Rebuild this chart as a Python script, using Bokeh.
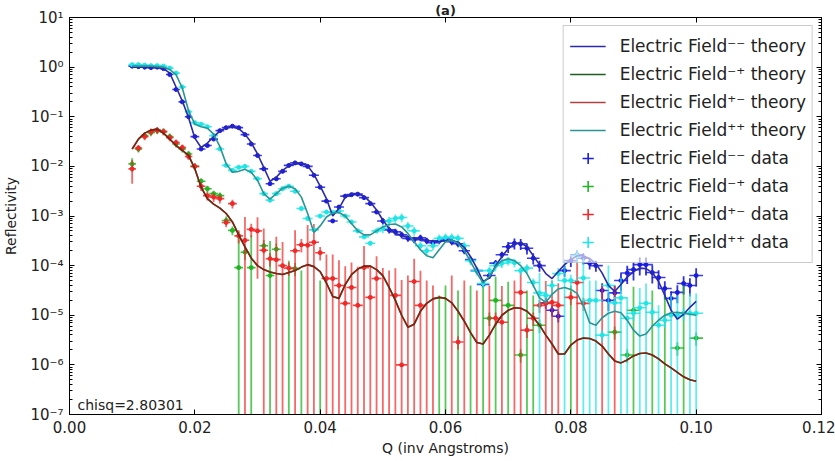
import numpy as np
from bokeh.plotting import figure
from bokeh.models import (FixedTicker, CustomJSTickFormatter, LinearAxis, LogAxis,
                          Legend, LegendItem, Label, ColumnDataSource, Range1d)
from bokeh.embed import file_html
from bokeh.resources import INLINE

nan = float("nan")

# ---------------- data ----------------
q = [0.010, 0.011, 0.012, 0.013, 0.014, 0.015, 0.016, 0.017, 0.018, 0.019,
     0.020, 0.021, 0.022, 0.023, 0.024, 0.025, 0.026, 0.027, 0.028, 0.029,
     0.030, 0.031, 0.032, 0.033, 0.034, 0.035, 0.036, 0.037, 0.038, 0.039,
     0.040, 0.041, 0.042, 0.043, 0.044, 0.045, 0.046, 0.047, 0.048, 0.049,
     0.050, 0.051, 0.052, 0.053, 0.054, 0.055, 0.056, 0.057, 0.058, 0.059,
     0.060, 0.061, 0.062, 0.063, 0.064, 0.065, 0.066, 0.067, 0.068, 0.069,
     0.070, 0.071, 0.072, 0.073, 0.074, 0.075, 0.076, 0.077, 0.078, 0.079,
     0.080, 0.081, 0.082, 0.083, 0.084, 0.085, 0.086, 0.087, 0.088, 0.089,
     0.090, 0.091, 0.092, 0.093, 0.094, 0.095, 0.096, 0.097, 0.098, 0.099, 0.100]

# Q resolution (horizontal error bar half-width)
dq = [0.0006] * 10 + [0.0007] * 10 + [0.0007] * 5 + [0.0008] * 5 + [0.0008] * 10 + \
     [0.0009] * 10 + [0.0009] * 5 + [0.0010] * 5 + [0.0010] * 10 + [0.0011] * 10 + [0.0011] * 11

# theory curves, log10(R)
theory_mm = [0.00, 0.00, 0.00, -0.01, -0.01, -0.03, -0.12, -0.40, -0.68, -1.02,
             -1.43, -1.62, -1.53, -1.40, -1.29, -1.22, -1.20, -1.24, -1.35, -1.52,
             -1.75, -2.02, -2.30, -2.22, -2.08, -1.99, -1.94, -1.94, -1.99, -2.16,
             -2.40, -2.65, -3.00, -2.85, -2.62, -2.55, -2.55, -2.60, -2.72, -2.88,
             -3.08, -3.25, -3.35, -3.40, -3.43, -3.45, -3.47, -3.49, -3.51, -3.52,
             -3.50, -3.49, -3.53, -3.63, -3.82, -4.05, -4.32, -4.25, -4.00, -3.82,
             -3.66, -3.56, -3.54, -3.62, -3.80, -3.98, -4.16, -4.26, -4.12, -3.98,
             -3.88, -3.80, -3.80, -3.86, -3.96, -4.15, -4.40, -4.52, -4.38, -4.23,
             -4.12, -4.05, -4.06, -4.14, -4.32, -4.60, -4.90, -5.08, -4.98, -4.84, -4.72]
theory_pp = [0.02, 0.02, 0.02, 0.02, 0.01, 0.00, -0.05, -0.15, -0.42, -0.88,
             -1.15, -1.20, -1.23, -1.35, -1.60, -1.95, -2.12, -2.10, -2.06, -2.12,
             -2.28, -2.55, -2.66, -2.55, -2.44, -2.40, -2.45, -2.62, -2.95, -3.33,
             -3.20, -3.02, -2.94, -2.93, -3.00, -3.15, -3.30, -3.38, -3.38, -3.30,
             -3.22, -3.17, -3.16, -3.22, -3.35, -3.52, -3.68, -3.80, -3.84, -3.68,
             -3.52, -3.49, -3.55, -3.70, -3.92, -4.15, -4.35, -4.22, -4.02, -3.90,
             -3.86, -3.90, -4.00, -4.16, -4.40, -4.65, -4.74, -4.58, -4.47, -4.44,
             -4.48, -4.56, -4.80, -5.15, -5.20, -5.05, -4.96, -4.92, -4.95, -5.10,
             -5.30, -5.42, -5.38, -5.22, -5.10, -5.00, -4.95, -4.94, -4.96, -4.98, -5.00]
theory_pm = [-1.65, -1.45, -1.33, -1.27, -1.25, -1.33, -1.45, -1.58, -1.68, -1.78,
             -2.05, -2.42, -2.65, -2.76, -2.84, -2.95, -3.12, -3.38, -3.62, -3.85,
             -4.00, -4.08, -4.13, -4.16, -4.18, -4.14, -4.10, -4.03, -3.98, -4.02,
             -4.12, -4.35, -4.62, -4.66, -4.38, -4.18, -4.07, -4.01, -4.01, -4.08,
             -4.20, -4.44, -4.70, -5.00, -5.24, -5.18, -4.92, -4.76, -4.67, -4.64,
             -4.66, -4.75, -4.92, -5.12, -5.35, -5.55, -5.58, -5.40, -5.18, -5.00,
             -4.90, -4.85, -4.86, -4.92, -5.04, -5.20, -5.40, -5.58, -5.78, -5.78,
             -5.60, -5.50, -5.46, -5.47, -5.52, -5.62, -5.78, -5.92, -5.96, -5.90,
             -5.82, -5.77, -5.76, -5.80, -5.88, -5.98, -6.06, -6.15, -6.24, -6.30, -6.33]
theory_mp = list(theory_pm)  # the -+ and +- theory curves coincide in the figure

# measured data: log10(R) (nan = not positive / not shown) and log10(dR)
data_mm = [0.02, 0.01, 0.00, -0.01, 0.00, -0.03, -0.15, -0.45, -0.70, -1.00,
           -1.40, -1.65, -1.58, -1.45, -1.28, -1.22, -1.19, -1.22, -1.36, -1.55,
           -1.78, -2.05, -2.35, -2.25, -2.10, -1.98, -1.93, -1.95, -2.00, -2.18,
           -2.42, -2.70, -3.10, -2.82, -2.60, -2.57, -2.56, -2.63, -2.75, -2.92,
           -3.10, -3.28, -3.32, -3.38, -3.45, -3.48, -3.44, -3.50, -3.54, -3.50,
           -3.46, -3.52, -3.56, -3.70, -3.88, -4.10, -4.38, -4.20, -3.95, -3.78,
           -3.62, -3.55, -3.56, -3.65, -3.85, -4.00, -4.75, -4.90, -5.02, -4.10,
           -3.90, -3.78, -3.85, -3.95, -4.00, -4.50, -4.70, -4.55, -4.30, -4.15,
           -4.08, -3.98, -3.98, -4.14, -4.24, -4.46, -4.66, -4.54, -4.36, -4.40, -4.20]
err_mm = [-1.38, -1.39, -1.40, -1.41, -1.40, -1.43, -1.55, -1.85, -2.10, -2.40,
          -2.80, -3.05, -2.98, -2.85, -2.68, -2.62, -2.59, -2.62, -2.76, -2.95,
          -2.88, -3.15, -3.45, -3.35, -3.20, -3.08, -3.03, -3.05, -3.10, -3.28,
          -3.52, -3.80, -4.20, -3.92, -3.70, -3.67, -3.66, -3.73, -3.85, -4.02,
          -3.92, -4.10, -4.14, -4.20, -4.27, -4.30, -4.26, -4.32, -4.36, -4.32,
          -4.28, -4.34, -4.38, -4.52, -4.70, -4.92, -5.20, -5.02, -4.77, -4.60,
          -4.22, -4.15, -4.16, -4.25, -4.45, -4.60, -5.35, -5.50, -5.62, -4.70,
          -4.50, -4.38, -4.45, -4.55, -4.60, -4.90, -5.10, -4.95, -4.70, -4.55,
          -4.48, -4.38, -4.38, -4.54, -4.64, -4.86, -5.06, -4.94, -4.76, -4.80, -4.60]

data_mp = [-1.95, -1.65, -1.38, -1.32, -1.28, -1.30, -1.40, -1.55, -1.65, -1.75,
           -2.00, -2.30, -2.45, -2.55, -2.59, -3.09, -3.29, -4.04, -3.73, -4.04,
           nan, -3.60, -4.20, -3.67, nan, nan, -4.06, nan, nan, nan,
           nan, nan, nan, nan, nan, nan, nan, nan, nan, nan,
           nan, nan, nan, nan, nan, nan, nan, nan, nan, nan,
           nan, nan, nan, nan, nan, nan, nan, -5.06, -4.70, nan,
           -4.80, nan, -5.80, nan, nan, -5.20, nan, nan, nan, nan,
           nan, nan, nan, nan, nan, nan, nan, -5.34, nan, -5.80,
           -4.90, nan, nan, nan, nan, nan, nan, -5.66, nan, nan, -5.46]
err_mp = [-2.47, -2.47, -2.20, -2.14, -2.10, -2.12, -2.22, -2.37, -2.47, -2.57,
          -2.82, -3.12, -3.27, -3.37, -3.41, -3.79, -3.99, -3.40, -4.25, -3.50,
          nan, -4.12, -3.60, -4.19, nan, -3.90, -4.58, -4.10, nan, nan,
          -4.30, nan, nan, nan, nan, nan, nan, nan, nan, nan,
          nan, nan, nan, nan, nan, nan, nan, nan, nan, -4.60,
          -4.40, nan, -4.50, nan, -4.40, nan, -4.30, -5.58, -4.40, nan,
          -4.50, nan, -6.32, -4.50, -4.60, -5.72, nan, nan, nan, nan,
          -4.40, nan, nan, nan, nan, nan, nan, -5.86, nan, -6.32,
          -4.60, nan, nan, -4.50, nan, -4.60, nan, -6.18, -4.40, nan, -5.98]

data_pm = [-2.05, -1.63, -1.40, -1.30, -1.27, -1.30, -1.42, -1.52, -1.62, -1.80,
           -2.00, -2.40, -2.59, -2.62, -2.65, -3.13, -2.75, -3.40, -3.49, -3.27,
           -3.30, -3.69, -3.86, -3.88, -4.00, -4.05, -3.70, -3.58, -3.59, -3.53,
           -3.74, -4.26, -4.26, -4.40, -4.76, -4.44, -4.80, -4.04, -4.64, -4.26,
           nan, nan, -4.60, -6.00, nan, -4.32, -4.80, nan, nan, nan,
           nan, nan, -5.54, nan, nan, nan, nan, nan, -5.06, -5.14,
           nan, nan, -4.54, -5.30, -5.06, -4.80, -4.76, -4.74, -4.80, nan,
           -4.64, -4.34, -4.76, nan, nan, nan, nan, nan, nan, nan,
           nan, nan, nan, nan, nan, nan, nan, nan, nan, nan, nan]
err_pm = [-2.35, -2.45, -2.22, -2.12, -2.09, -2.12, -2.24, -2.34, -2.44, -2.62,
          -2.82, -3.10, -3.29, -3.32, -3.35, -3.83, -3.45, -3.92, -3.20, -3.79,
          -3.35, -3.45, -4.38, -3.60, -3.70, -4.57, -3.50, -4.10, -3.40, -3.40,
          -4.26, -3.95, -3.95, -4.05, -4.10, -4.10, -4.10, -3.80, -4.10, -4.00,
          -4.05, -4.10, -4.20, -4.30, -4.20, -4.05, -4.20, -4.30, -4.40, nan,
          nan, -4.20, -6.06, -4.30, nan, -4.50, nan, -4.40, -5.58, -4.50,
          nan, -4.30, -4.30, -5.82, -5.58, -5.32, -4.50, -4.50, -4.55, nan,
          -5.16, -4.10, -5.28, nan, nan, -4.40, nan, -4.40, nan, nan,
          nan, nan, nan, nan, nan, nan, nan, nan, nan, nan, nan]

data_pp = [0.05, 0.05, 0.04, 0.03, 0.03, 0.02, -0.02, -0.12, -0.40, -0.90,
           -1.12, -1.15, -1.20, -1.38, -1.65, -1.98, -2.08, -2.02, -2.00, -2.10,
           -2.25, -2.55, -2.68, -2.55, -2.45, -2.40, -2.50, -2.85, -3.05, -3.28,
           -3.00, -2.92, -2.93, -2.90, -3.00, -3.12, -3.30, -3.42, -3.55, -3.30,
           -3.25, -3.10, -3.05, -3.03, -3.20, -3.30, -3.60, -3.70, -3.60, -3.45,
           -3.43, -3.43, -3.45, -3.60, -3.90, -4.10, -4.36, -4.10, -4.00, -3.95,
           -3.90, -3.94, -4.10, -4.05, -4.34, -4.55, -4.60, -4.40, -4.16, -4.30,
           -4.30, -3.80, -4.25, -4.70, -4.70, -5.40, -4.40, -4.75, -4.65, -5.06,
           -4.96, -4.85, -4.76, -4.94, -5.20, -5.10, -5.00, -5.00, -4.96, -4.96, -4.96]
err_pp = [-1.25, -1.25, -1.26, -1.27, -1.27, -1.28, -1.32, -1.42, -1.70, -2.20,
          -2.42, -2.45, -2.50, -2.68, -2.95, -3.28, -3.38, -3.32, -3.30, -3.40,
          -3.25, -3.55, -3.68, -3.55, -3.45, -3.40, -3.50, -3.85, -4.05, -4.28,
          -4.00, -3.92, -3.93, -3.90, -4.00, -4.12, -4.30, -4.42, -4.55, -4.30,
          -3.95, -3.80, -3.75, -3.73, -3.90, -4.00, -4.30, -4.40, -4.30, -4.15,
          -4.13, -4.13, -4.15, -4.30, -4.60, -4.80, -5.06, -4.80, -4.70, -4.65,
          -4.60, -4.64, -4.80, -4.75, -5.04, -4.37, -5.12, -4.92, -4.68, -4.12,
          -4.82, -4.32, -4.07, -4.52, -4.52, -5.92, -4.22, -5.27, -4.47, -4.88,
          -5.48, -4.67, -4.58, -5.46, -5.02, -5.62, -4.82, -4.82, -5.48, -4.78, -4.78]

x_ticks = [0.00, 0.02, 0.04, 0.06, 0.08, 0.10, 0.12]
y_ticks = [1e-7, 1e-6, 1e-5, 1e-4, 1e-3, 1e-2, 1e-1, 1e0, 1e1]

title_text = "(a)"
labels_theory = ["Electric Field\u207b\u207b theory", "Electric Field\u207b\u207a theory",
                 "Electric Field\u207a\u207b theory", "Electric Field\u207a\u207a theory"]
labels_data = ["Electric Field\u207b\u207b data", "Electric Field\u207b\u207a data",
               "Electric Field\u207a\u207b data", "Electric Field\u207a\u207a data"]

# ---------------- figure ----------------
FONT = "DejaVu Sans"
Y_MIN, Y_MAX = 1e-7, 10.0

p = figure(width=835, height=461, x_range=Range1d(0, 0.12), y_range=Range1d(Y_MIN, Y_MAX),
           y_axis_type="log", output_backend="svg", toolbar_location=None,
           min_border_left=66, min_border_right=14, min_border_top=0, min_border_bottom=47)
p.title.text = title_text
p.title.align = "center"
p.title.text_font = FONT
p.title.text_font_size = "13px"
p.title.text_font_style = "bold"
p.title.text_color = "#222222"
p.title.standoff = 0
p.title.offset = 0

p.xgrid.visible = False
p.ygrid.visible = False
p.outline_line_color = "black"
p.outline_line_width = 1
p.background_fill_color = "white"
p.border_fill_color = "white"

xt = FixedTicker(ticks=x_ticks, minor_ticks=[])
minor_y = [k * 10.0 ** e for e in range(-7, 1) for k in range(2, 10)]
yt = FixedTicker(ticks=y_ticks, minor_ticks=minor_y)

sup_fmt = CustomJSTickFormatter(code="""
const e = Math.round(Math.log10(tick));
const sup = {'-': '\\u207b', '0': '\\u2070', '1': '\\u00b9', '2': '\\u00b2', '3': '\\u00b3',
             '4': '\\u2074', '5': '\\u2075', '6': '\\u2076', '7': '\\u2077', '8': '\\u2078', '9': '\\u2079'};
let s = '';
for (const c of String(e)) { s += sup[c]; }
return '10' + s;
""")
blank_fmt = CustomJSTickFormatter(code="return '';")


def style_axis(ax):
    ax.major_tick_in = 5
    ax.major_tick_out = 0
    ax.minor_tick_in = 3
    ax.minor_tick_out = 0
    ax.axis_line_color = "black"
    ax.major_tick_line_color = "black"
    ax.minor_tick_line_color = "black"
    ax.major_label_text_font = FONT
    ax.major_label_text_font_size = "15px"
    ax.major_label_text_color = "#222222"
    ax.axis_label_text_font = FONT
    ax.axis_label_text_font_size = "14px"
    ax.axis_label_text_font_style = "normal"
    ax.axis_label_text_color = "#222222"


xa = p.below[0]
xa.ticker = xt
xa.formatter = CustomJSTickFormatter(code="return tick.toFixed(2);")
xa.axis_label = "Q (inv Angstroms)"
style_axis(xa)
xa.major_label_standoff = 6
xa.axis_label_standoff = 4

ya = p.left[0]
ya.ticker = yt
ya.formatter = sup_fmt
ya.axis_label = "Reflectivity"
style_axis(ya)
ya.major_label_standoff = 6
ya.axis_label_standoff = 8

top_ax = LinearAxis(ticker=xt, formatter=blank_fmt)
style_axis(top_ax)
top_ax.major_label_standoff = 0
p.add_layout(top_ax, "above")
right_ax = LogAxis(ticker=yt, formatter=blank_fmt)
style_axis(right_ax)
right_ax.major_label_standoff = 0
p.add_layout(right_ax, "right")

qa = np.array(q)
dqa = np.array(dq)


def draw_data(logr, logerr, color, bar_alpha):
    R = 10.0 ** np.array(logr, dtype=float)
    dR = 10.0 ** np.array(logerr, dtype=float)
    vis = ~np.isnan(R)
    has_bar = ~np.isnan(dR)
    Rz = np.where(vis, R, 0.0)
    top = Rz + dR
    bot = Rz - dR
    bot = np.where(bot > 0, bot, 1e-9)
    vsrc = ColumnDataSource(dict(x=qa[has_bar], y0=bot[has_bar], y1=top[has_bar]))
    p.segment(x0="x", y0="y0", x1="x", y1="y1", source=vsrc, line_color=color,
              line_alpha=bar_alpha, line_width=1.8)
    hsrc = ColumnDataSource(dict(x0=(qa - dqa)[vis], x1=(qa + dqa)[vis], y=R[vis]))
    p.segment(x0="x0", y0="y", x1="x1", y1="y", source=hsrc, line_color=color,
              line_alpha=0.85, line_width=1.6)
    psrc = ColumnDataSource(dict(x=qa[vis], y=R[vis]))
    p.scatter(x="x", y="y", source=psrc, marker="circle", size=4, fill_color=color,
              line_color=color)
    # legend proxy: an error-bar cross (size 0 in the plot, drawn only in the legend)
    return p.scatter(x="x", y="y", source=psrc, marker="cross", size=0,
                     line_color=color, line_width=1.6)


c_mm, c_mp, c_pm, c_pp = "#1c1ce0", "#22b422", "#f02828", "#1fe6e6"
leg_mm = draw_data(data_mm, err_mm, c_mm, 0.9)
leg_mp = draw_data(data_mp, err_mp, c_mp, 0.75)
leg_pm = draw_data(data_pm, err_pm, c_pm, 0.7)
leg_pp = draw_data(data_pp, err_pp, c_pp, 0.7)

lt_mm = p.line(qa, 10.0 ** np.array(theory_mm), line_color="#2b2ba8", line_width=1.6)
lt_mp = p.line(qa, 10.0 ** np.array(theory_mp), line_color="#1e5e1e", line_width=1.6)
lt_pm = p.line(qa, 10.0 ** np.array(theory_pm), line_color="#a01010", line_alpha=0.8, line_width=1.6)
lt_pp = p.line(qa, 10.0 ** np.array(theory_pp), line_color="#2a9595", line_width=1.6)

items = [LegendItem(label=labels_theory[0], renderers=[lt_mm]),
         LegendItem(label=labels_theory[1], renderers=[lt_mp]),
         LegendItem(label=labels_theory[2], renderers=[lt_pm]),
         LegendItem(label=labels_theory[3], renderers=[lt_pp]),
         LegendItem(label=labels_data[0], renderers=[leg_mm]),
         LegendItem(label=labels_data[1], renderers=[leg_mp]),
         LegendItem(label=labels_data[2], renderers=[leg_pm]),
         LegendItem(label=labels_data[3], renderers=[leg_pp])]
legend = Legend(items=items, location="top_right")
legend.margin = 8
legend.padding = 6
legend.spacing = 0
legend.glyph_width = 36
legend.glyph_height = 28
legend.label_height = 28
legend.label_standoff = 14
legend.label_text_font = FONT
legend.label_text_font_size = "17px"
legend.label_text_color = "#222222"
legend.border_line_color = "#999999"
legend.border_line_width = 1
legend.background_fill_color = "white"
legend.background_fill_alpha = 0.6
p.add_layout(legend)

p.add_layout(Label(x=8, y=2, x_units="screen", y_units="screen", text="chisq=2.80301",
                   text_font=FONT, text_font_size="14px", text_color="#222222",
                   text_baseline="bottom"))

open("out.html", "w").write(file_html(p, INLINE))
